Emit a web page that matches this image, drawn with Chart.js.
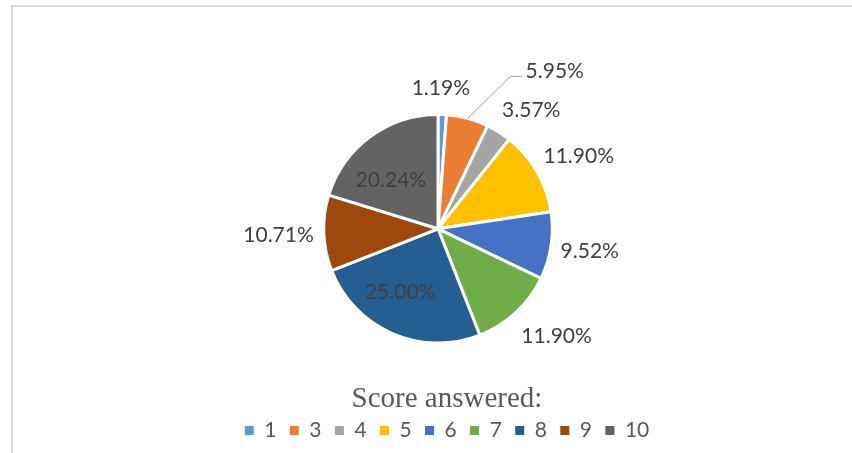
<!DOCTYPE html>
<html>
<head>
<meta charset="utf-8">
<script src="https://cdn.jsdelivr.net/npm/chart.js@4.4.1/dist/chart.umd.min.js"></script>
<style>
  html, body { margin: 0; padding: 0; background: #fff; }
  #wrap { position: relative; width: 852px; height: 453px; }
</style>
</head>
<body>
<div id="wrap"><canvas id="c"></canvas></div>
<script>
// ---- data ----
const categories = ['1', '3', '4', '5', '6', '7', '8', '9', '10'];
const percentages = [1.19, 5.95, 3.57, 11.90, 9.52, 11.90, 25.00, 10.71, 20.24];
const sliceColors = ['#5B9BD5', '#ED7D31', '#A5A5A5', '#FFC000', '#4472C4', '#70AD47', '#255E91', '#9E480E', '#636363'];
const legendTitle = 'Score answered:';

// ---- label styling (not data) ----
const insideLabelIdx = [6, 8];   // labels drawn inside the slice
const leaderLabelIdx = 1;        // label with a leader line
const labelNudge = [[-3, -5], [0, 0], [10, -3.5], [0, -5], [-3, 2], [8, 8], [-9.5, -2], [3, 1], [-5, 8]];

const LABEL_FONT = '21px Lato, "Open Sans", sans-serif';
const LABEL_COLOR = '#404040';

const frame = {
  id: 'frame',
  beforeDraw(chart) {
    const ctx = chart.ctx;
    ctx.save();
    ctx.strokeStyle = '#D9D9D9';
    ctx.lineWidth = 2;
    ctx.beginPath();
    ctx.moveTo(12, 453);
    ctx.lineTo(12, 6);
    ctx.lineTo(852, 6);
    ctx.stroke();
    ctx.restore();
  }
};

const legendShift = {
  id: 'legendShift',
  afterLayout(chart) {
    if (chart.legend) { chart.legend.left += 9; chart.legend.right += 9; }
  }
};

const pieLabels = {
  id: 'pieLabels',
  afterDatasetsDraw(chart) {
    const ctx = chart.ctx;
    const meta = chart.getDatasetMeta(0);
    const ds = chart.data.datasets[0];
    ctx.save();
    ctx.font = LABEL_FONT;
    ctx.fillStyle = LABEL_COLOR;
    ctx.textBaseline = 'middle';
    ctx.textAlign = 'center';
    meta.data.forEach((arc, i) => {
      const p = arc.getProps(['x', 'y', 'startAngle', 'endAngle', 'outerRadius'], true);
      const m = (p.startAngle + p.endAngle) / 2;
      const c = Math.cos(m), s = Math.sin(m);
      const txt = ds.data[i].toFixed(2) + '%';
      const w = ctx.measureText(txt).width;
      const h = 16;
      const [nx, ny] = labelNudge[i];
      if (insideLabelIdx.includes(i)) {
        ctx.textAlign = 'center';
        ctx.fillText(txt, p.x + c * p.outerRadius * 0.62 + nx, p.y + s * p.outerRadius * 0.62 + ny);
      } else if (i === leaderLabelIdx) {
        const ex = p.x + c * p.outerRadius, ey = p.y + s * p.outerRadius;
        const bx = ex + 43, by = ey - 42;
        ctx.strokeStyle = '#A6A6A6';
        ctx.lineWidth = 1;
        ctx.beginPath();
        ctx.moveTo(ex, ey);
        ctx.lineTo(bx, by);
        ctx.lineTo(bx + 12, by);
        ctx.stroke();
        ctx.textAlign = 'left';
        ctx.fillText(txt, bx + 15, by - 5);
      } else {
        const r = p.outerRadius + 13;
        const px = p.x + c * r, py = p.y + s * r;
        ctx.textAlign = 'center';
        ctx.fillText(txt, px + c * w / 2 + nx, py + s * h / 2 + ny);
      }
    });
    ctx.restore();
  }
};

new Chart(document.getElementById('c'), {
  type: 'pie',
  data: {
    labels: categories,
    datasets: [{
      data: percentages,
      backgroundColor: sliceColors,
      borderColor: '#FFFFFF',
      borderWidth: 3,
      hoverOffset: 0
    }]
  },
  options: {
    responsive: true,
    maintainAspectRatio: false,
    animation: false,
    layout: { padding: { top: 113, bottom: 2, left: 24, right: 0 } },
    plugins: {
      tooltip: { enabled: false },
      legend: {
        position: 'bottom',
        title: {
          display: true,
          text: legendTitle,
          color: '#595959',
          font: { family: '"Liberation Serif", "Times New Roman", serif', size: 29, lineHeight: 1.0 },
          padding: { top: 40, bottom: -7 }
        },
        labels: {
          boxWidth: 9,
          boxHeight: 9,
          padding: 13.4,
          color: '#595959',
          font: { family: 'Lato, "Open Sans", sans-serif', size: 21 },
          generateLabels(chart) {
            const d = chart.data;
            return d.labels.map((l, i) => ({
              text: l,
              fillStyle: d.datasets[0].backgroundColor[i],
              strokeStyle: d.datasets[0].backgroundColor[i],
              lineWidth: 0,
              fontColor: '#595959',
              index: i,
              hidden: false
            }));
          }
        }
      }
    }
  },
  plugins: [frame, legendShift, pieLabels]
});
</script>
</body>
</html>
